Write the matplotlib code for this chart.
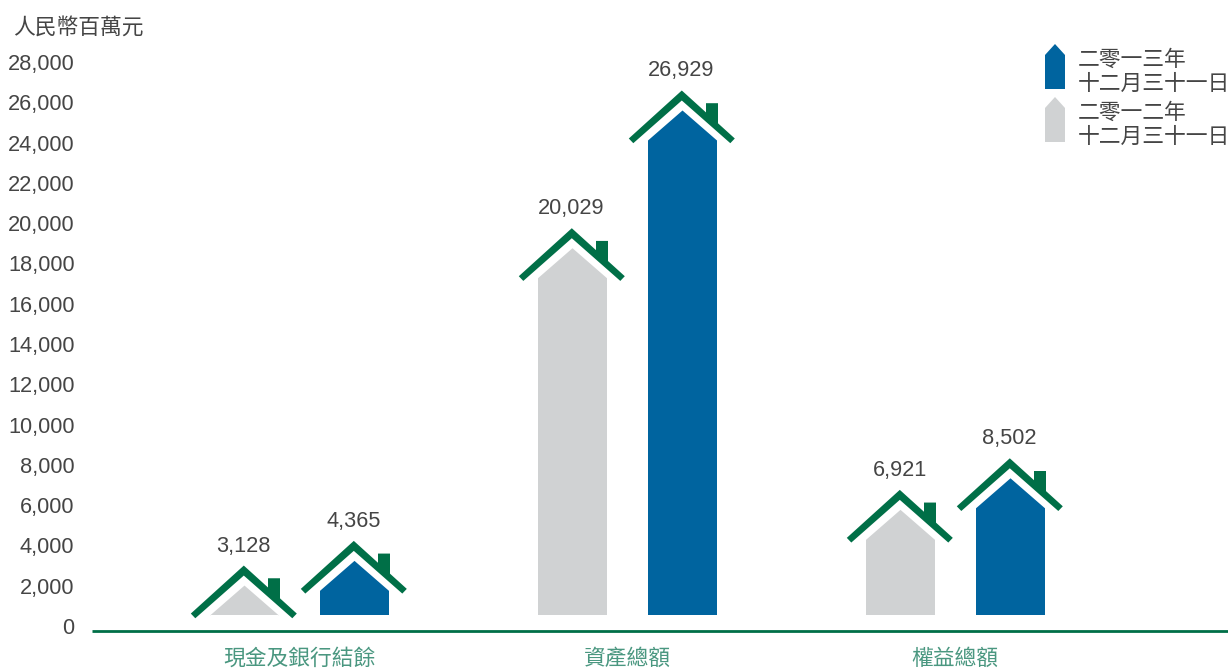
import matplotlib

matplotlib.use("Agg")
import matplotlib.pyplot as plt
from matplotlib.lines import Line2D
from matplotlib.patches import Polygon

categories = ["現金及銀行結餘", "資產總額", "權益總額"]
values_2012 = [3128, 20029, 6921]
values_2013 = [4365, 26929, 8502]
axis_ticks = list(range(0, 28001, 2000))
unit_label = "人民幣百萬元"
legend_2013 = ["二零一三年", "十二月三十一日"]
legend_2012 = ["二零一二年", "十二月三十一日"]

W, H = 1228, 669
GREEN = "#006f47"
LABEL_GREEN = "#4a9780"
BLUE = "#00649f"
GREY = "#d0d2d3"
TEXT = "#454545"
CJK = ["Noto Sans CJK TC", "DejaVu Sans"]
NUM_FONT = "Liberation Sans"
FONT_SIZE = 15.7

# scale of the houses: pixels per category step and per RMB million
px_per_cat = 328
px_per_val = 0.01996
zero_y = 628.0
first_cat_x = 299.5
bar_offset = 55
base_y = 615


def fx(px):
    return px / W


def fy(py):
    return 1 - py / H


fig = plt.figure(figsize=(W / 100, H / 100), dpi=100)

ax = fig.add_axes([0, 0, 1, 1])
ax.set_xlim(-first_cat_x / px_per_cat, (W - first_cat_x) / px_per_cat)
ax.set_ylim((zero_y - H) / px_per_val, zero_y / px_per_val)
ax.axis("off")

# tick labels sit on their own slightly different scale
ax_ticks = fig.add_axes([fx(74.5), 0, 1 - fx(74.5), 1])
ax_ticks.set_frame_on(False)
ax_ticks.patch.set_alpha(0)
ax_ticks.set_ylim((626 - H) / 0.02014, 626 / 0.02014)
ax_ticks.set_xticks([])
ax_ticks.set_yticks(axis_ticks)
ax_ticks.set_yticklabels([f"{t:,}" for t in axis_ticks])
ax_ticks.tick_params(axis="y", length=0, pad=0, labelsize=FONT_SIZE, labelcolor=TEXT)
for lab in ax_ticks.get_yticklabels():
    lab.set_fontfamily(NUM_FONT)


def draw_house(x, value, color):
    def pt(dx, dy):
        # offsets in pixels from the roof peak
        return (x + dx / px_per_cat, value - dy / px_per_val)

    roof = [(-0.7, 0), (52.3, 48), (47.8, 52.7), (-0.7, 10), (-49.2, 52.7), (-53.7, 48)]
    chimney = [(23.5, 12.7), (35.5, 12.7), (35.5, 36), (23.5, 25)]
    peak_y = zero_y - value * px_per_val
    bottom = base_y - peak_y
    body = [(0, 20), (34.5, 50), (34.5, bottom), (-34.5, bottom), (-34.5, 50)]

    ax.add_patch(Polygon([pt(*p) for p in body], closed=True, fc=color, ec="none"))
    ax.add_patch(Polygon([pt(*p) for p in roof], closed=True, fc=GREEN, ec="none"))
    ax.add_patch(Polygon([pt(*p) for p in chimney], closed=True, fc=GREEN, ec="none"))
    ax.annotate(
        f"{value:,}",
        (x, value),
        xytext=(-1 * 0.72, 19.5 * 0.72),
        textcoords="offset points",
        ha="center",
        va="center",
        fontsize=FONT_SIZE,
        color=TEXT,
        family=NUM_FONT,
    )


for i, cat in enumerate(categories):
    draw_house(i - bar_offset / px_per_cat, values_2012[i], GREY)
    draw_house(i + bar_offset / px_per_cat, values_2013[i], BLUE)
    fig.text(
        fx(first_cat_x + i * px_per_cat - 0.5),
        fy(659),
        cat,
        ha="center",
        va="center",
        fontsize=FONT_SIZE,
        color=LABEL_GREEN,
        family=CJK,
        fontweight="light",
    )

fig.add_artist(
    Line2D([fx(92), 1], [fy(631), fy(631)], color=GREEN, lw=2.0, solid_capstyle="butt")
)

fig.text(
    fx(13),
    fy(27.5),
    unit_label,
    ha="left",
    va="center",
    fontsize=FONT_SIZE,
    color=TEXT,
    family=CJK,
    fontweight="light",
)


# legend: small house outlines with two lines of text
def legend_entry(top, color, lines):
    marker = [
        (1055, top),
        (1065, top + 11),
        (1065, top + 45),
        (1045, top + 45),
        (1045, top + 11),
    ]
    fig.add_artist(
        Polygon(
            [(fx(a), fy(b)) for a, b in marker],
            closed=True,
            fc=color,
            ec="none",
            transform=fig.transFigure,
        )
    )
    for k, line in enumerate(lines):
        fig.text(
            fx(1078),
            fy(top + 15.5 + k * 24),
            line,
            ha="left",
            va="center",
            fontsize=FONT_SIZE,
            color=TEXT,
            family=CJK,
            fontweight="light",
        )


legend_entry(44, BLUE, legend_2013)
legend_entry(97, GREY, legend_2012)

fig.savefig("out.png", dpi=100)
